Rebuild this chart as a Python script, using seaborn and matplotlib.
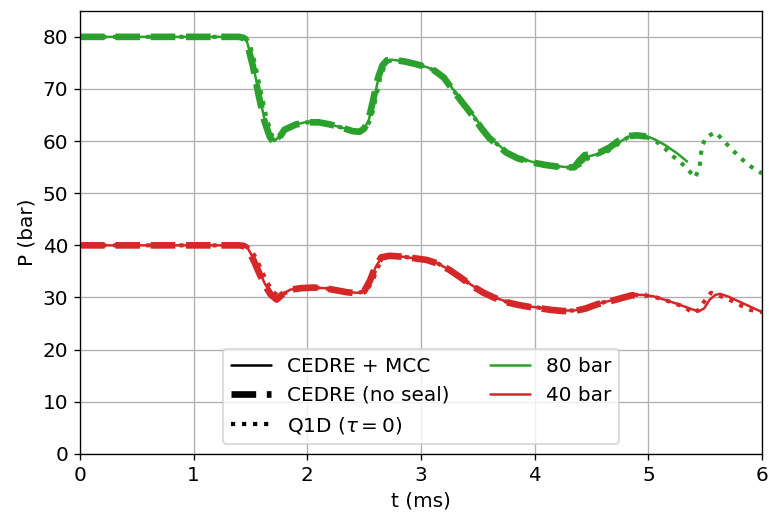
import numpy as np
import pandas as pd
import matplotlib
matplotlib.use("Agg")
import matplotlib.pyplot as plt
from matplotlib.lines import Line2D
import seaborn as sns

# ---- 80 bar case ----
t_80_mcc = [0.00, 1.40, 1.44, 1.47, 1.52, 1.57, 1.62, 1.67, 1.71, 1.75, 1.80, 1.90,
            2.00, 2.10, 2.20, 2.30, 2.40, 2.46, 2.50, 2.54, 2.58, 2.62, 2.66, 2.70,
            2.75, 2.85, 2.95, 3.05, 3.12, 3.20, 3.28, 3.36, 3.45, 3.53, 3.60, 3.68,
            3.75, 3.85, 3.98, 4.10, 4.20, 4.28, 4.36, 4.42, 4.48, 4.55, 4.63, 4.70,
            4.76, 4.82, 4.89, 4.96, 5.05, 5.15, 5.25, 5.34]
p_80_mcc = [80.0, 80.0, 79.8, 79.0, 75.0, 69.5, 64.5, 61.2, 60.0, 60.8, 62.2, 63.2,
            63.7, 63.6, 63.2, 62.6, 62.0, 61.9, 62.4, 64.0, 67.5, 71.5, 74.0, 75.4,
            75.6, 75.3, 74.8, 74.2, 73.6, 72.4, 70.0, 67.8, 65.3, 62.8, 60.8, 59.3,
            58.0, 56.9, 56.0, 55.5, 55.2, 55.0, 55.1, 55.9, 57.1, 57.5, 58.0, 59.0,
            60.0, 60.8, 61.2, 61.1, 60.4, 59.2, 57.7, 56.1]

t_80_noseal = [0.00, 1.40, 1.44, 1.47, 1.52, 1.57, 1.62, 1.67, 1.71, 1.75, 1.80, 1.90,
               2.00, 2.10, 2.20, 2.30, 2.40, 2.46, 2.50, 2.54, 2.58, 2.62, 2.66, 2.70,
               2.75, 2.85, 2.95, 3.05, 3.12, 3.20, 3.28, 3.36, 3.45, 3.53, 3.60, 3.68,
               3.75, 3.85, 3.98, 4.10, 4.20, 4.28, 4.35, 4.39, 4.44, 4.50, 4.58, 4.66,
               4.72, 4.78, 4.84, 4.90, 4.98]
p_80_noseal = [80.0, 80.0, 79.8, 78.8, 74.5, 69.0, 64.0, 60.8, 59.6, 60.6, 62.2, 63.2,
               63.6, 63.6, 63.2, 62.6, 61.9, 61.8, 62.4, 64.2, 68.0, 72.0, 74.5, 75.5,
               75.6, 75.3, 74.8, 74.2, 73.5, 72.2, 69.8, 67.5, 65.0, 62.5, 60.6, 59.1,
               57.8, 56.7, 55.9, 55.4, 55.1, 54.9, 55.0, 56.2, 57.3, 57.5, 57.9, 58.8,
               59.8, 60.7, 61.0, 61.1, 60.9]

t_80_q1d = [0.00, 1.42, 1.46, 1.49, 1.54, 1.59, 1.64, 1.69, 1.73, 1.77, 1.82, 1.90,
            2.00, 2.10, 2.20, 2.30, 2.40, 2.47, 2.52, 2.56, 2.60, 2.64, 2.68, 2.72,
            2.77, 2.85, 2.95, 3.05, 3.12, 3.20, 3.28, 3.36, 3.45, 3.53, 3.60, 3.68,
            3.75, 3.85, 3.98, 4.10, 4.20, 4.28, 4.36, 4.42, 4.48, 4.55, 4.63, 4.70,
            4.76, 4.82, 4.89, 4.96, 5.07, 5.15, 5.21, 5.28, 5.35, 5.41, 5.45, 5.47,
            5.51, 5.59, 5.66, 5.73, 5.79, 5.86, 5.94, 6.00]
p_80_q1d = [80.0, 80.0, 79.8, 78.8, 74.8, 69.5, 64.5, 61.0, 60.2, 61.0, 62.4, 63.2,
            63.6, 63.6, 63.2, 62.6, 62.1, 62.0, 62.6, 64.3, 68.0, 72.0, 74.5, 75.4,
            75.6, 75.3, 74.8, 74.2, 73.5, 72.2, 69.9, 67.6, 65.1, 62.6, 60.7, 59.2,
            57.9, 56.8, 55.9, 55.4, 55.1, 54.9, 55.0, 55.7, 56.9, 57.4, 57.9, 58.9,
            59.9, 60.7, 61.1, 61.0, 59.9, 58.5, 57.2, 56.0, 54.5, 53.0, 54.9, 59.0,
            60.8, 61.7, 60.1, 58.5, 57.2, 55.8, 54.5, 53.8]

# ---- 40 bar case ----
t_40_mcc = [0.00, 1.40, 1.44, 1.48, 1.53, 1.58, 1.63, 1.68, 1.73, 1.78, 1.85, 1.95,
            2.05, 2.15, 2.25, 2.35, 2.45, 2.50, 2.55, 2.60, 2.65, 2.72, 2.85, 2.95,
            3.05, 3.15, 3.25, 3.35, 3.45, 3.55, 3.65, 3.75, 3.85, 3.95, 4.05, 4.15,
            4.25, 4.35, 4.45, 4.55, 4.65, 4.75, 4.85, 4.95, 5.05, 5.15, 5.25, 5.35,
            5.44, 5.49, 5.54, 5.59, 5.63, 5.70, 5.80, 5.90, 6.00]
p_40_mcc = [40.0, 40.0, 39.9, 39.3, 37.3, 34.8, 32.5, 30.8, 29.9, 30.6, 31.5, 31.8,
            31.9, 31.8, 31.4, 31.0, 30.9, 31.3, 33.0, 35.8, 37.6, 38.0, 37.8, 37.5,
            37.2, 36.5, 35.3, 33.8, 32.3, 31.0, 30.0, 29.2, 28.7, 28.3, 28.0, 27.7,
            27.5, 27.5, 28.0, 28.8, 29.3, 29.9, 30.5, 30.5, 30.2, 29.5, 28.8, 28.0,
            27.3, 27.9, 29.6, 30.5, 30.7, 30.2, 29.2, 28.2, 27.2]

t_40_noseal = [0.00, 1.40, 1.44, 1.48, 1.53, 1.58, 1.63, 1.68, 1.73, 1.78, 1.85, 1.95,
               2.05, 2.15, 2.25, 2.35, 2.45, 2.50, 2.55, 2.60, 2.65, 2.72, 2.85, 2.95,
               3.05, 3.15, 3.25, 3.35, 3.45, 3.55, 3.65, 3.75, 3.85, 3.95, 4.05, 4.15,
               4.25, 4.35, 4.45, 4.55, 4.65, 4.75, 4.85, 4.92, 4.98]
p_40_noseal = [40.0, 40.0, 39.9, 39.1, 37.0, 34.5, 32.2, 30.5, 29.6, 30.6, 31.5, 31.8,
               31.9, 31.8, 31.4, 31.0, 30.8, 31.2, 33.2, 36.0, 37.7, 38.0, 37.8, 37.5,
               37.2, 36.5, 35.3, 33.8, 32.2, 30.9, 29.9, 29.1, 28.6, 28.2, 27.9, 27.6,
               27.4, 27.4, 27.9, 28.7, 29.2, 29.8, 30.4, 30.5, 30.4]

t_40_q1d = [0.00, 1.42, 1.46, 1.50, 1.55, 1.60, 1.65, 1.70, 1.75, 1.80, 1.87, 1.95,
            2.05, 2.15, 2.25, 2.35, 2.45, 2.52, 2.57, 2.62, 2.67, 2.74, 2.85, 2.95,
            3.05, 3.15, 3.25, 3.35, 3.45, 3.55, 3.65, 3.75, 3.85, 3.95, 4.05, 4.15,
            4.25, 4.35, 4.45, 4.55, 4.65, 4.75, 4.85, 4.95, 5.05, 5.14, 5.21, 5.32,
            5.39, 5.44, 5.49, 5.55, 5.62, 5.73, 5.82, 5.90, 6.00]
p_40_q1d = [40.0, 40.0, 39.9, 39.3, 37.5, 35.0, 32.8, 31.0, 30.3, 30.8, 31.5, 31.8,
            31.9, 31.8, 31.4, 31.0, 30.9, 31.3, 33.0, 35.8, 37.5, 38.0, 37.8, 37.5,
            37.2, 36.5, 35.3, 33.8, 32.3, 31.0, 30.0, 29.2, 28.7, 28.3, 28.0, 27.7,
            27.5, 27.5, 28.0, 28.8, 29.3, 29.9, 30.5, 30.5, 30.1, 29.6, 29.0, 28.2,
            27.0, 27.6, 29.2, 30.9, 30.4, 29.4, 28.4, 27.6, 27.2]

x_ticks = [0, 1, 2, 3, 4, 5, 6]
y_ticks = [0, 10, 20, 30, 40, 50, 60, 70, 80]

model_labels = ["CEDRE + MCC", "CEDRE (no seal)", r"Q1D ($\tau = 0$)"]
case_labels = ["80 bar", "40 bar"]

GREEN = "#2ca02c"
RED = "#d62728"
styles = {
    "CEDRE + MCC": dict(linestyle="-", linewidth=1.5),
    "CEDRE (no seal)": dict(linestyle="--", linewidth=4.0),
    r"Q1D ($\tau = 0$)": dict(linestyle=":", linewidth=2.5),
}

series = [
    ("80 bar", "CEDRE + MCC", t_80_mcc, p_80_mcc),
    ("80 bar", "CEDRE (no seal)", t_80_noseal, p_80_noseal),
    ("80 bar", r"Q1D ($\tau = 0$)", t_80_q1d, p_80_q1d),
    ("40 bar", "CEDRE + MCC", t_40_mcc, p_40_mcc),
    ("40 bar", "CEDRE (no seal)", t_40_noseal, p_40_noseal),
    ("40 bar", r"Q1D ($\tau = 0$)", t_40_q1d, p_40_q1d),
]
colors = {"80 bar": GREEN, "40 bar": RED}

sns.set_style("ticks", {"axes.grid": True, "grid.color": "#b0b0b0",
                        "axes.edgecolor": "black", "xtick.color": "black",
                        "ytick.color": "black", "axes.labelcolor": "black",
                        "text.color": "black"})
plt.rcParams["font.family"] = ["DejaVu Sans"]
plt.rcParams["font.size"] = 12
plt.rcParams["axes.labelsize"] = 12
plt.rcParams["xtick.labelsize"] = 12
plt.rcParams["ytick.labelsize"] = 12
plt.rcParams["legend.fontsize"] = 12
plt.rcParams["grid.linewidth"] = 0.8
plt.rcParams["axes.linewidth"] = 0.8

fig, ax = plt.subplots(figsize=(769 / 120, 514 / 120), dpi=120)
fig.subplots_adjust(left=0.104, right=0.991, bottom=0.117, top=0.979)

for case, model, t, p in series:
    df = pd.DataFrame({"t": t, "p": p})
    sns.lineplot(data=df, x="t", y="p", ax=ax, color=colors[case],
                 estimator=None, sort=False, **styles[model])

ax.set_xlim(0, 6)
ax.set_ylim(0, 85)
ax.set_xticks(x_ticks)
ax.set_yticks(y_ticks)
ax.set_xlabel("t (ms)")
ax.set_ylabel("P (bar)")
ax.grid(True, color="#b0b0b0", linewidth=0.8)

handles = [Line2D([], [], color="black", **styles[m]) for m in model_labels]
handles += [Line2D([], [], color=colors[c], linewidth=1.5) for c in case_labels]
labels = model_labels + case_labels
ax.legend(handles, labels, ncol=2, loc="lower center", frameon=True,
          framealpha=0.8, edgecolor="#cccccc", fancybox=True)

fig.savefig("out.png", dpi=120)
